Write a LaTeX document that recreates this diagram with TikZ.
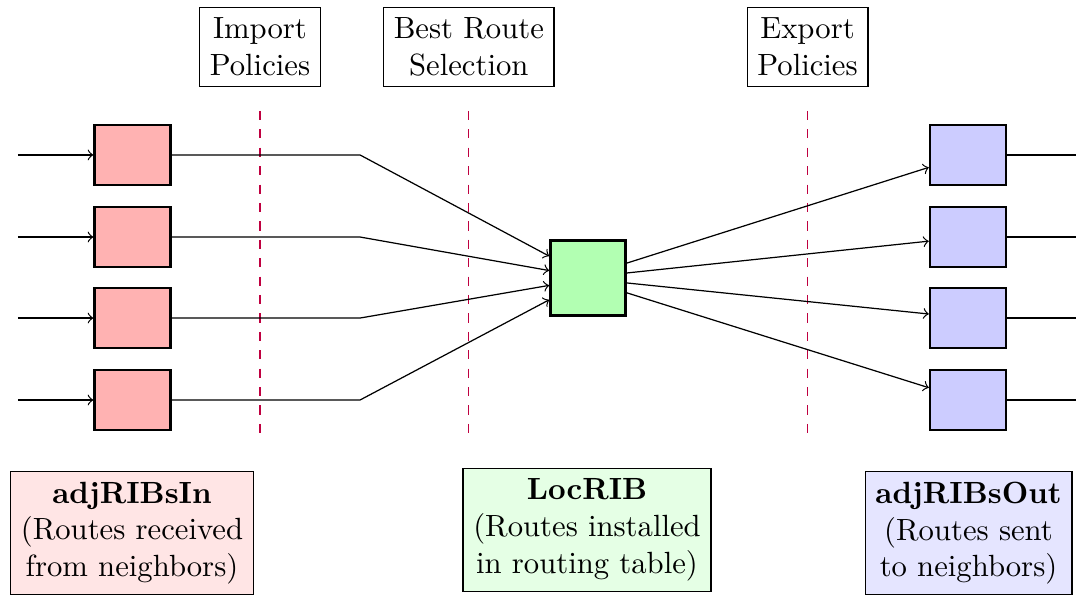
\documentclass[tikz,border=0pt]{standalone}
\usepackage{tikz}
\usetikzlibrary{calc}

\begin{document}
\begin{tikzpicture}[>=to]
		\useasboundingbox (0,0) rectangle (12.325,-6.85);
		% phase labels and separators
		\node[rectangle,draw,align=center] (imp) at (2.978,-0.538) {Import\\Policies};
		\node[rectangle,draw,align=center] (best) at (5.37,-0.538) {Best Route\\Selection};
		\node[rectangle,draw,align=center] (exp) at (9.25,-0.538) {Export\\Policies};
		\coordinate (impa) at (2.978,-1.27); \coordinate (impb) at (2.978,-5.006);
		\coordinate (besta) at (5.37,-1.27); \coordinate (bestb) at (5.37,-5.006);
		\coordinate (expa) at (9.25,-1.27); \coordinate (expb) at (9.25,-5.006);
		\draw[dashed,purple] (impa) -- (impb);
		\draw[dashed,purple] (besta) -- (bestb);
		\draw[dashed,purple] (expa) -- (expb);
		% the loc rib
		\node[rectangle,draw,thick,fill=green!30,minimum size=0.86cm] (loc) at (6.735,-3.184) {};
		% one row per neighbor
		\foreach \i/\y/\o/\p in {1/-1.775/0.25/0.17, 2/-2.715/0.085/0.057, 3/-3.643/-0.085/-0.057, 4/-4.582/-0.25/-0.17} {
			\node[rectangle,draw,thick,fill=red!30,minimum width=0.87cm,minimum height=0.69cm] (in\i) at (1.518,\y) {};
			\node[rectangle,draw,thick,fill=blue!20,minimum width=0.87cm,minimum height=0.69cm] (out\i) at (11.088,\y) {};
			\coordinate (src\i) at (0.206,\y);
			\coordinate (bend\i) at (4.124,\y);
			\coordinate (sink\i) at (12.325,\y);
			\draw[->] (src\i) -- (in\i);
			\draw[->] (in\i) -- (bend\i) -- ($(loc.west)+(0,\o)$);
			\draw[->] ($(loc.east)+(0,\p)$) -- (out\i);
			\draw (out\i) -- (sink\i);
		}
		% tables
		\node[rectangle,draw,fill=red!10,align=center,anchor=north] (ribin) at (1.512,-5.395) {\textbf{adjRIBsIn}\\(Routes received\\from neighbors)};
		\node[rectangle,draw,fill=green!10,align=center,anchor=north] (locrib) at (6.724,-5.36) {\textbf{LocRIB}\\(Routes installed\\in routing table)};
		\node[rectangle,draw,fill=blue!10,align=center,anchor=north] (ribout) at (11.094,-5.395) {\textbf{adjRIBsOut}\\(Routes sent\\to neighbors)};
\end{tikzpicture}
\end{document}
